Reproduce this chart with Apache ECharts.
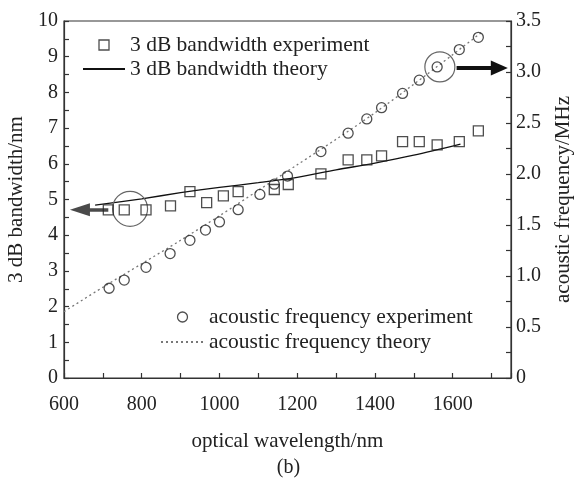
<!DOCTYPE html>
<html><head><meta charset="utf-8">
<script src="https://cdn.jsdelivr.net/npm/echarts@6/dist/echarts.min.js"></script>
<style>html,body{margin:0;padding:0;background:#fff}#c{width:577px;height:479px}</style>
</head><body><div id="c"></div>
<script>
// 3 dB bandwidth experiment (nm)
const bwWavelength = [714, 755, 811, 874, 924, 967, 1010, 1048, 1141, 1177, 1261, 1331, 1379, 1417, 1471, 1514, 1560, 1617, 1666];
const bwExperiment = [4.71, 4.71, 4.71, 4.82, 5.22, 4.91, 5.10, 5.22, 5.28, 5.42, 5.72, 6.11, 6.11, 6.22, 6.62, 6.62, 6.53, 6.62, 6.92];
// 3 dB bandwidth theory (nm)
const bwTheoryWavelength = [680, 800, 900, 1000, 1100, 1200, 1300, 1400, 1500, 1620];
const bwTheory = [4.84, 5.02, 5.19, 5.34, 5.47, 5.62, 5.83, 6.02, 6.24, 6.55];
// acoustic frequency experiment (MHz)
const afWavelength = [716, 755, 811, 873, 924, 964, 1000, 1048, 1104, 1141, 1175, 1261, 1331, 1379, 1417, 1471, 1514, 1560, 1617, 1666];
const afExperiment = [0.88, 0.96, 1.085, 1.22, 1.35, 1.45, 1.53, 1.65, 1.80, 1.90, 1.98, 2.22, 2.40, 2.54, 2.65, 2.79, 2.92, 3.05, 3.22, 3.34];
// acoustic frequency theory (MHz)
const afTheoryWavelength = [600, 700, 800, 900, 1000, 1100, 1200, 1300, 1400, 1500, 1600, 1675];
const afTheory = [0.65, 0.89, 1.12, 1.35, 1.59, 1.84, 2.09, 2.34, 2.60, 2.88, 3.17, 3.39];
// axis tick labels
const xTickLabels = [600, 800, 1000, 1200, 1400, 1600];
const yLeftTickLabels = [0, 1, 2, 3, 4, 5, 6, 7, 8, 9, 10];
const yRightTickLabels = ['0', '0.5', '1.0', '1.5', '2.0', '2.5', '3.0', '3.5'];
// annotations (data units)
const leftCircle = [770, 4.74];
const leftArrow = [[714, 4.71], [641, 4.71]];
const rightCircle = [1567, 3.05];
const rightArrow = [[1610, 3.04], [1720, 3.04]];

const FONT = "'Liberation Serif', 'Times New Roman', serif";
const TXT = '#222';
const zip = (a, b) => a.map((v, i) => [v, b[i]]);

const chart = echarts.init(document.getElementById('c'), null, {renderer: 'canvas'});
const hollow = {color: 'transparent', borderColor: '#222', borderWidth: 1.3};

chart.setOption({
  animation: false,
  backgroundColor: '#fff',
  textStyle: {fontFamily: FONT, color: TXT},
  title: {text: '(b)', left: 'center', top: 453, textStyle: {fontFamily: FONT, fontSize: 20, fontWeight: 'normal', color: TXT}},
  grid: {left: 64, right: 66, top: 21, bottom: 101, outerBoundsMode: 'none', containLabel: false,
    show: true, borderColor: '#333', borderWidth: 1.2, backgroundColor: 'transparent'},
  legend: [
    {
      orient: 'vertical', left: 82, top: 34, padding: 0, itemGap: 2, itemWidth: 42, itemHeight: 10,
      textStyle: {fontFamily: FONT, fontSize: 21.5, color: TXT},
      selectedMode: false,
      data: [
        {name: '3 dB bandwidth experiment', icon: 'path://M0,0L10,0L10,10L0,10Z', itemStyle: hollow},
        {name: '3 dB bandwidth theory', itemStyle: {opacity: 0}}
      ]
    },
    {
      orient: 'vertical', left: 160, top: 306, padding: 0, itemGap: 3, itemWidth: 43, itemHeight: 10,
      textStyle: {fontFamily: FONT, fontSize: 21.5, color: TXT},
      selectedMode: false,
      data: [
        {name: 'acoustic frequency experiment', icon: 'circle', itemStyle: hollow},
        {name: 'acoustic frequency theory', itemStyle: {opacity: 0}}
      ]
    }
  ],
  xAxis: {
    type: 'value', min: 600, max: 1750, interval: 100,
    name: 'optical wavelength/nm', nameLocation: 'middle', nameGap: 53,
    nameTextStyle: {fontFamily: FONT, fontSize: 21, color: TXT},
    axisLine: {show: true, lineStyle: {color: '#333', width: 1.2}},
    axisTick: {show: true, inside: true, length: 5, lineStyle: {color: '#333', width: 1.2}},
    axisLabel: {margin: 17, fontFamily: FONT, fontSize: 20, color: TXT,
      formatter: v => (xTickLabels.indexOf(v) >= 0 ? String(v) : '')},
    splitLine: {show: false}
  },
  yAxis: [
    {
      type: 'value', min: 0, max: 10, interval: 0.5, position: 'left',
      name: '3 dB bandwidth/nm', nameLocation: 'middle', nameGap: 28,
      nameTextStyle: {fontFamily: FONT, fontSize: 21, color: TXT},
      axisLine: {show: true, lineStyle: {color: '#333', width: 1.2}},
      axisTick: {show: true, inside: true, length: 5, lineStyle: {color: '#333', width: 1.2}},
      axisLabel: {margin: 6, fontFamily: FONT, fontSize: 20, color: TXT,
        formatter: v => (yLeftTickLabels.indexOf(v) >= 0 ? String(v) : '')},
      splitLine: {show: false}
    },
    {
      type: 'value', min: 0, max: 3.5, interval: 0.25, position: 'right',
      name: 'acoustic frequency/MHz', nameLocation: 'middle', nameGap: 42,
      nameTextStyle: {fontFamily: FONT, fontSize: 21, color: TXT},
      axisLine: {show: true, lineStyle: {color: '#333', width: 1.2}},
      axisTick: {show: true, inside: true, length: 5, lineStyle: {color: '#333', width: 1.2}},
      axisLabel: {margin: 5, fontFamily: FONT, fontSize: 20, color: TXT,
        formatter: v => {
          const i = Math.round(v / 0.5);
          return Math.abs(v - i * 0.5) < 1e-6 && i < yRightTickLabels.length ? yRightTickLabels[i] : '';
        }},
      splitLine: {show: false}
    }
  ],
  series: [
    {
      name: '3 dB bandwidth experiment', type: 'scatter', yAxisIndex: 0,
      symbol: 'rect', symbolSize: 10, itemStyle: hollow, z: 5,
      data: zip(bwWavelength, bwExperiment),
      markPoint: {
        silent: true, symbol: 'circle', symbolSize: 35, label: {show: false},
        itemStyle: {color: 'transparent', borderColor: '#666', borderWidth: 1.2},
        data: [{coord: leftCircle}]
      },
      markLine: {
        silent: true, symbol: ['none', 'triangle'], symbolSize: [13, 20], label: {show: false},
        lineStyle: {color: '#4a4a4a', width: 3.5, type: 'solid'},
        data: [[{coord: leftArrow[0]}, {coord: leftArrow[1]}]]
      }
    },
    {
      name: '3 dB bandwidth theory', type: 'line', yAxisIndex: 0,
      smooth: 0.3, showSymbol: false, symbol: 'none',
      lineStyle: {color: '#111', width: 1.3}, itemStyle: {color: '#111'},
      data: zip(bwTheoryWavelength, bwTheory)
    },
    {
      name: 'acoustic frequency experiment', type: 'scatter', yAxisIndex: 1,
      symbol: 'circle', symbolSize: 10, itemStyle: hollow, z: 5,
      data: zip(afWavelength, afExperiment),
      markPoint: {
        silent: true, symbol: 'circle', symbolSize: 30, label: {show: false},
        itemStyle: {color: 'transparent', borderColor: '#666', borderWidth: 1.2},
        data: [{coord: rightCircle}]
      },
      markLine: {
        silent: true, symbol: ['none', 'triangle'], symbolSize: [15, 17], label: {show: false},
        lineStyle: {color: '#111', width: 4, type: 'solid'},
        data: [[{coord: rightArrow[0]}, {coord: rightArrow[1]}]]
      }
    },
    {
      name: 'acoustic frequency theory', type: 'line', yAxisIndex: 1,
      smooth: 0.3, showSymbol: false, symbol: 'none',
      lineStyle: {color: '#777', width: 1.3, type: [2, 3]}, itemStyle: {color: '#777'},
      data: zip(afTheoryWavelength, afTheory)
    }
  ]
});
</script>
</body></html>
